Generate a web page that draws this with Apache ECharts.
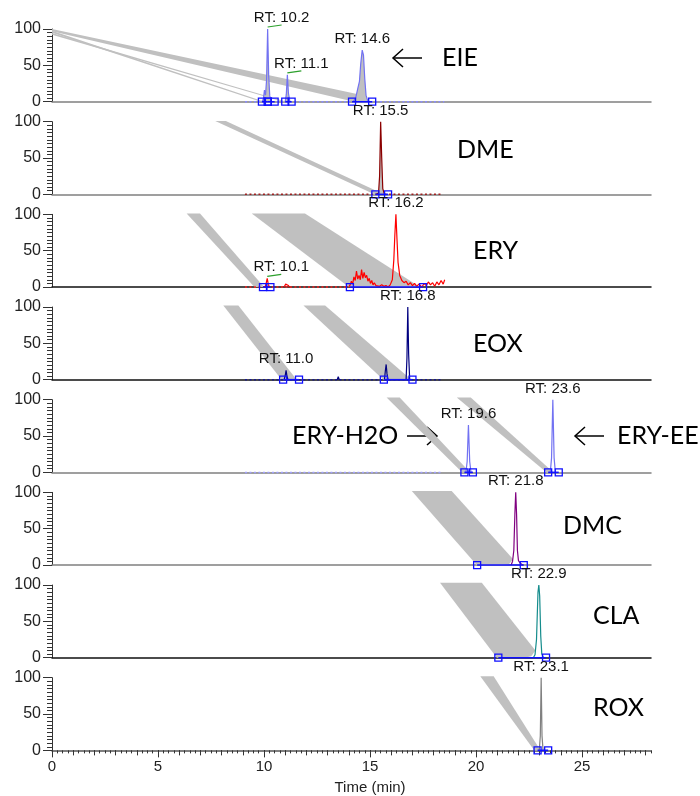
<!DOCTYPE html>
<html><head><meta charset="utf-8">
<script src="https://cdn.jsdelivr.net/npm/echarts@6.0.0/dist/echarts.min.js"></script>
<style>html,body{margin:0;padding:0;background:#fff}#c{width:700px;height:796px}</style>
</head><body><div id="c"></div>
<script>
// ---------------- DATA ----------------
const panelNames = ['EIE', 'DME', 'ERY', 'EOX', 'ERY-EE', 'DMC', 'CLA', 'ROX'];
const xTicks = [0, 5, 10, 15, 20, 25];
const yTicks = [0, 50, 100];
const xAxisTitle = 'Time (min)';

// chromatogram traces: segments of [time (min), relative abundance]
const traceEIE = [
  [[9.9,0],[9.97,4],[10.02,16],[10.07,9],[10.12,30],[10.17,100],[10.22,35],[10.27,8],[10.34,0]],
  [[11.0,0],[11.05,10],[11.1,37],[11.15,12],[11.22,0]],
  [[14.2,0],[14.32,5],[14.42,18],[14.5,28],[14.56,52],[14.63,71],[14.69,64],[14.75,32],[14.81,9],[14.9,0]]
];
const traceDME = [
  [[15.3,0],[15.4,2],[15.45,25],[15.5,100],[15.55,50],[15.6,8],[15.68,0]]
];
const traceERY = [
  [[10.05,0],[10.1,5],[10.15,12],[10.2,4],[10.25,0]],
  [[10.95,0],[11.02,4],[11.08,6],[11.15,2],[11.2,0]],
  [[14.0,0],[14.06,3],[14.12,8],[14.18,4],[14.24,14],[14.3,9],[14.36,22],[14.42,11],[14.48,16],[14.54,10],
   [14.6,24],[14.66,12],[14.72,20],[14.78,13],[14.84,16],[14.9,8],[14.96,12],[15.02,5],[15.08,9],[15.14,3],
   [15.2,6],[15.28,2],[15.36,4],[15.45,1],[15.55,3],[15.65,1],[15.75,2],[15.85,0],[15.95,3],[16.05,10],
   [16.12,37],[16.17,72],[16.22,100],[16.27,66],[16.32,34],[16.4,16],[16.5,9],[16.6,6],[16.7,8],[16.8,3],
   [16.9,6],[17.0,2],[17.1,5],[17.2,1],[17.3,4],[17.45,0],[17.55,5],[17.65,2],[17.75,7],[17.85,3],
   [17.95,6],[18.05,1],[18.15,7],[18.25,3],[18.35,9],[18.45,4],[18.52,10]]
];
const traceEOX = [
  [[10.95,0],[11.0,6],[11.04,13],[11.08,5],[11.13,0]],
  [[13.45,0],[13.5,4],[13.55,0]],
  [[15.68,0],[15.72,12],[15.76,21],[15.8,8],[15.85,0]],
  [[16.7,0],[16.74,30],[16.78,100],[16.82,35],[16.87,0]]
];
const traceERYEE = [
  [[19.52,0],[19.58,15],[19.64,65],[19.7,15],[19.76,0]],
  [[23.5,0],[23.56,20],[23.62,100],[23.68,20],[23.74,0]]
];
const traceDMC = [
  [[21.65,0],[21.72,5],[21.78,20],[21.83,70],[21.87,100],[21.91,70],[21.95,20],[22.0,6],[22.1,2],[22.2,0]]
];
const traceCLA = [
  [[22.7,0],[22.78,4],[22.85,25],[22.92,90],[22.96,100],[23.0,85],[23.05,30],[23.1,5],[23.18,0]]
];
const traceROX = [
  [[22.98,0],[23.03,20],[23.07,100],[23.11,20],[23.16,0]]
];

// dotted zero-signal ranges [start, end] (min)
const dottedEIE = [9.1, 18.5];
const dottedDME = [9.1, 18.4];
const dottedERY = [9.1, 14.0];
const dottedEOX = [9.1, 18.4];
const dottedERYEE = [9.1, 18.4];

// integration baselines [start, end] (min)
const intEIE = [[9.9,10.18],[10.18,10.5],[11.0,11.3],[14.15,15.1]];
const intDME = [[15.25,15.85]];
const intERY = [[9.95,10.3],[14.05,17.5]];
const intEOX = [[10.9,11.65],[15.65,17.0]];
const intERYEE = [[19.45,19.85],[23.4,23.9]];
const intDMC = [[20.05,22.25]];
const intCLA = [[21.05,23.3]];
const intROX = [[22.9,23.4]];

// grey shaded bands: polygons of [time, abundance]
const bandsEIE = [
  [[0,100],[14.5,10],[14.25,0],[0,97]],
  [[0,97.5],[10.02,0],[9.85,0],[0,95]],
  [[0,94.5],[11.05,0],[10.9,0],[0,92]]
];
const bandsDME = [[[7.7,101],[8.2,101],[15.65,0],[15.2,0]]];
const bandsERY = [
  [[6.35,101],[6.98,101],[10.0,0],[9.55,0]],
  [[9.42,101],[11.93,101],[17.35,0],[14.0,0]]
];
const bandsEOX = [
  [[8.08,102],[8.79,102],[11.54,0],[10.83,0]],
  [[11.86,102],[12.88,102],[16.95,0],[15.63,0]]
];
const bandsERYEE = [
  [[15.78,103],[16.4,103],[19.72,0],[19.35,0]],
  [[19.09,103],[19.75,103],[23.65,0],[23.33,0]]
];
const bandsDMC = [[[16.97,102],[18.85,102],[21.75,8],[21.55,1],[21.3,0],[20.03,0]]];
const bandsCLA = [[[18.3,103],[20.27,103],[22.8,10],[22.6,2],[22.3,0],[20.98,0]]];
const bandsROX = [[[20.2,102],[20.83,102],[23.04,0],[22.75,0]]];

// retention time labels: [apex time, apex abundance, text, has leader line]
const rtEIE = [[10.17,100,'RT: 10.2',1],[11.1,37,'RT: 11.1',1],[14.63,71,'RT: 14.6',0]];
const rtDME = [[15.5,100,'RT: 15.5',0]];
const rtERY = [[10.15,12,'RT: 10.1',1],[16.22,100,'RT: 16.2',0]];
const rtEOX = [[11.04,13,'RT: 11.0',0],[16.78,100,'RT: 16.8',0]];
const rtERYEE = [[19.64,65,'RT: 19.6',0],[23.62,100,'RT: 23.6',0]];
const rtDMC = [[21.87,100,'RT: 21.8',0]];
const rtCLA = [[22.96,100,'RT: 22.9',0]];
const rtROX = [[23.07,100,'RT: 23.1',0]];

// ---------------- BUILD ----------------
const panels = [
  {trace: traceEIE, dotted: dottedEIE, integ: intEIE, bands: bandsEIE, rt: rtEIE},
  {trace: traceDME, dotted: dottedDME, integ: intDME, bands: bandsDME, rt: rtDME},
  {trace: traceERY, dotted: dottedERY, integ: intERY, bands: bandsERY, rt: rtERY},
  {trace: traceEOX, dotted: dottedEOX, integ: intEOX, bands: bandsEOX, rt: rtEOX},
  {trace: traceERYEE, dotted: dottedERYEE, integ: intERYEE, bands: bandsERYEE, rt: rtERYEE},
  {trace: traceDMC, dotted: null, integ: intDMC, bands: bandsDMC, rt: rtDMC},
  {trace: traceCLA, dotted: null, integ: intCLA, bands: bandsCLA, rt: rtCLA},
  {trace: traceROX, dotted: null, integ: intROX, bands: bandsROX, rt: rtROX}
];
const lineColors = ['#7272f2','#8b0000','#ff0000','#000080','#7272f2','#800080','#148c8c','#808080'];
const dotColors  = ['#8c8cff','#a02020','#ff2020','#1a1a90','#a0a0ff','#800080','#148c8c','#808080'];
const baseColors = ['#808080','#808080','#111111','#111111','#808080','#808080','#111111','#555555'];
const fillPeaks  = [true, true, false, false, false, false, false, false];

const FONT = "'Liberation Sans', Arial, sans-serif";
const XMAX = 28.25;
const grids = [], xAxes = [], yAxes = [], series = [];
const top0 = 29, step = 92.67, h = 72.7;

panels.forEach((p, i) => {
  grids.push({left: 52, right: 700 - 651, top: top0 + step * i, height: h});
  const last = i === panels.length - 1;
  xAxes.push({
    gridIndex: i, type: 'value', min: 0, max: XMAX, position: 'bottom',
    axisLine: {show: true, onZero: false, lineStyle: {color: baseColors[i], width: 1.5}},
    axisTick: last ? {show: true, customValues: xTicks, length: 7, lineStyle: {color: '#333'}} : {show: false},
    axisLabel: last ? {show: true, customValues: xTicks, fontSize: 15, fontFamily: FONT, color: '#222', margin: 9} : {show: false},
    splitLine: {show: false}
  });
  yAxes.push({
    gridIndex: i, type: 'value', min: yTicks[0], max: yTicks[yTicks.length - 1], interval: yTicks[1] - yTicks[0],
    axisLine: {show: true, lineStyle: {color: '#333', width: 1}},
    axisTick: {show: true, length: 9, lineStyle: {color: '#333'}},
    minorTick: {show: true, splitNumber: 10, length: 5, lineStyle: {color: '#333'}},
    axisLabel: {fontSize: 16, fontFamily: FONT, color: '#222', margin: 11},
    splitLine: {show: false}
  });

  // bands
  const bands = p.bands;
  series.push({
    type: 'custom', xAxisIndex: i, yAxisIndex: i, clip: false, silent: true, z: 1,
    data: bands.map((b, k) => [b[0][0], b[0][1], k]),
    renderItem: (params, api) => {
      const pts = bands[params.dataIndex].map(pt => api.coord(pt));
      return {type: 'polygon', shape: {points: pts}, style: {fill: '#c0c0c0', stroke: null}};
    }
  });
  // dotted baseline
  if (p.dotted) {
    series.push({
      type: 'line', xAxisIndex: i, yAxisIndex: i, silent: true, z: 3, showSymbol: false, clip: false,
      data: [[p.dotted[0], 0], [p.dotted[1], 0]],
      lineStyle: {color: dotColors[i], width: 1.5, type: [2, 2.5]}
    });
  }
  // integration baselines with square markers
  p.integ.forEach(seg => {
    series.push({
      type: 'line', xAxisIndex: i, yAxisIndex: i, silent: true, z: 5, clip: false,
      data: [[seg[0], 0], [seg[1], 0]],
      symbol: 'rect', symbolSize: 7, showSymbol: true,
      lineStyle: {color: '#1010ff', width: 1.6},
      itemStyle: {color: 'rgba(255,255,255,0)', borderColor: '#1010ff', borderWidth: 1.3}
    });
  });
  // trace segments
  p.trace.forEach(seg => {
    const s = {
      type: 'line', xAxisIndex: i, yAxisIndex: i, silent: true, z: 4, showSymbol: false, clip: false,
      data: seg, lineStyle: {color: lineColors[i], width: 1.2}
    };
    if (fillPeaks[i]) s.areaStyle = {color: '#c0c0c0', opacity: 1};
    series.push(s);
  });
  // RT labels
  const rts = p.rt;
  series.push({
    type: 'custom', xAxisIndex: i, yAxisIndex: i, clip: false, silent: true, z: 10,
    data: rts.map(r => [r[0], r[1]]),
    renderItem: (params, api) => {
      const r = rts[params.dataIndex];
      const c = api.coord([r[0], r[1]]);
      const lead = r[3] === 1;
      const cx = lead ? c[0] + 14 : c[0];
      const cy = c[1] - 11;
      const children = [{
        type: 'text', x: cx, y: cy,
        style: {text: r[2], fill: '#111', font: '15px ' + FONT, align: 'center', verticalAlign: 'middle'}
      }];
      if (lead) children.push({type: 'line', shape: {x1: c[0], y1: c[1] - 2, x2: cx, y2: c[1] - 4},
        style: {stroke: '#2ca02c', lineWidth: 1.2}});
      return {type: 'group', children};
    }
  });
});

// extra tick axes for bottom panel (integer and quarter-minute ticks)
const intTicks = [], quarterTicks = [];
for (let t = 0; t <= 28; t++) intTicks.push(t);
for (let t = 0; t <= XMAX + 1e-9; t += 0.25) quarterTicks.push(+t.toFixed(2));
[[intTicks, 5], [quarterTicks, 3]].forEach(([vals, len]) => {
  xAxes.push({
    gridIndex: 7, type: 'value', min: 0, max: XMAX, position: 'bottom', offset: 0,
    axisLine: {show: false},
    axisTick: {show: true, customValues: vals, length: len, lineStyle: {color: '#333'}},
    axisLabel: {show: false}, splitLine: {show: false}
  });
});

const nameFont = '25px Lato, "Open Sans", sans-serif';
const arrow = (x1, x2, y, headLeft) => {
  const hx = headLeft ? x1 : x2, d = headLeft ? 10 : -10;
  return [
    {type: 'line', shape: {x1, y1: y, x2, y2: y}, style: {stroke: '#000', lineWidth: 1.5}},
    {type: 'polyline', shape: {points: [[hx + d, y - 9], [hx, y], [hx + d, y + 9]]}, style: {stroke: '#000', lineWidth: 1.5, fill: null}}
  ];
};
const nameText = (text, x, y) => ({type: 'text', x, y, style: {text, font: nameFont, fill: '#000', verticalAlign: 'middle'}});

const option = {
  animation: false,
  backgroundColor: '#fff',
  grid: grids, xAxis: xAxes, yAxis: yAxes, series,
  graphic: [
    nameText(panelNames[0], 442, 58),
    ...arrow(393, 422, 58, true),
    nameText(panelNames[1], 457, 150),
    nameText(panelNames[2], 473, 251),
    nameText(panelNames[3], 473, 344),
    nameText('ERY-H2O', 292, 436),
    ...arrow(407, 437, 436, false),
    ...arrow(575, 604, 436, true),
    nameText(panelNames[4], 617, 436),
    nameText(panelNames[5], 563, 526),
    nameText(panelNames[6], 593, 616),
    nameText(panelNames[7], 593, 708),
    {type: 'text', x: 370, y: 788, style: {text: xAxisTitle, font: '15px ' + FONT, fill: '#222', align: 'center', verticalAlign: 'middle'}}
  ]
};
const chart = echarts.init(document.getElementById('c'), null, {renderer: 'canvas'});
chart.setOption(option);
</script></body></html>
